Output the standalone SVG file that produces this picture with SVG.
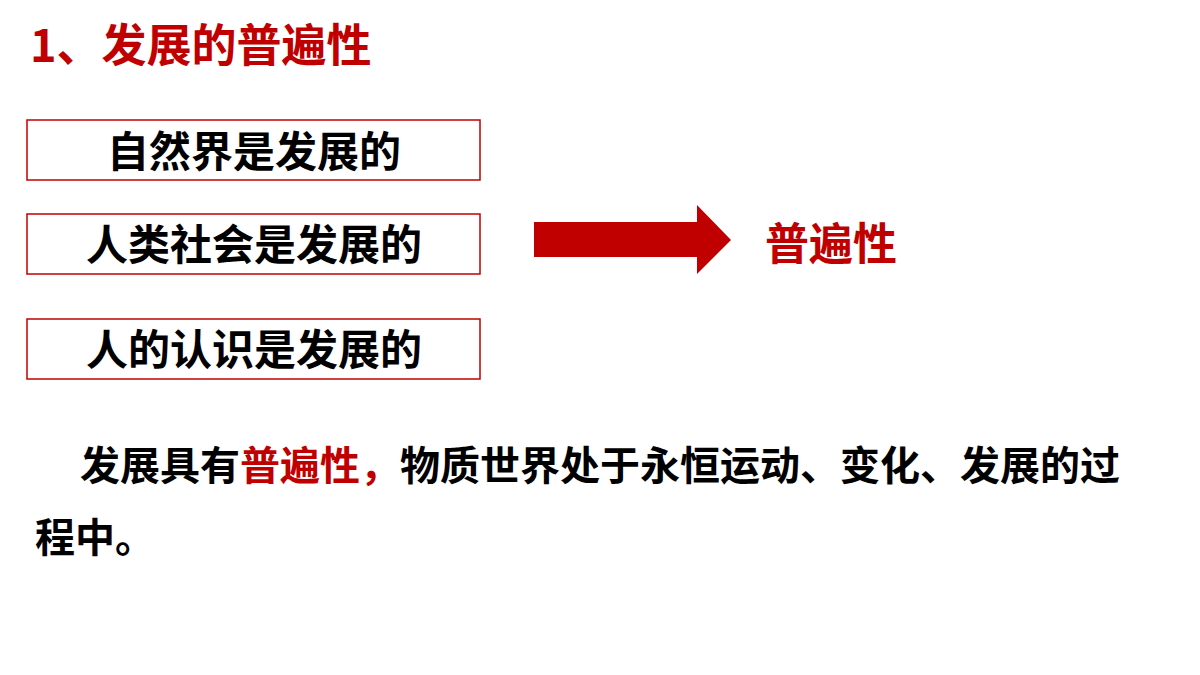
<svg xmlns="http://www.w3.org/2000/svg" width="1200" height="675" viewBox="0 0 1200 675">
<style>
text{font-family:"Noto Sans CJK SC","Liberation Sans",sans-serif;font-weight:700}
.red{fill:#c00000}
.blk{fill:#000000}
.box{fill:#ffffff;stroke:#c00000;stroke-width:1.5}
.lbl{font-size:42px;text-anchor:middle}
</style>
<rect width="1200" height="675" fill="#ffffff"/>
<g id="title"><text class="red" x="30" y="62" font-size="45">1、发展的普遍性</text></g>
<g id="node1"><rect class="box" x="27" y="120" width="453" height="60"/><text class="lbl blk" x="254" y="167">自然界是发展的</text></g>
<g id="node2"><rect class="box" x="27" y="214" width="453" height="60"/><text class="lbl blk" x="254" y="260">人类社会是发展的</text></g>
<g id="node3"><rect class="box" x="27" y="319" width="453" height="60"/><text class="lbl blk" x="254" y="365">人的认识是发展的</text></g>
<g id="connectors"><polygon class="red" points="534,222 697,222 697,205 731,240 697,274 697,257 534,257"/></g>
<g id="result"><text class="red" x="765" y="260" font-size="44">普遍性</text></g>
<g id="paragraph">
<text class="blk" x="80" y="480" font-size="40">发展具有<tspan class="red">普遍性，</tspan>物质世界处于永恒运动、变化、发展的过</text>
<text class="blk" x="35" y="552" font-size="40">程中。</text>
</g>
</svg>
